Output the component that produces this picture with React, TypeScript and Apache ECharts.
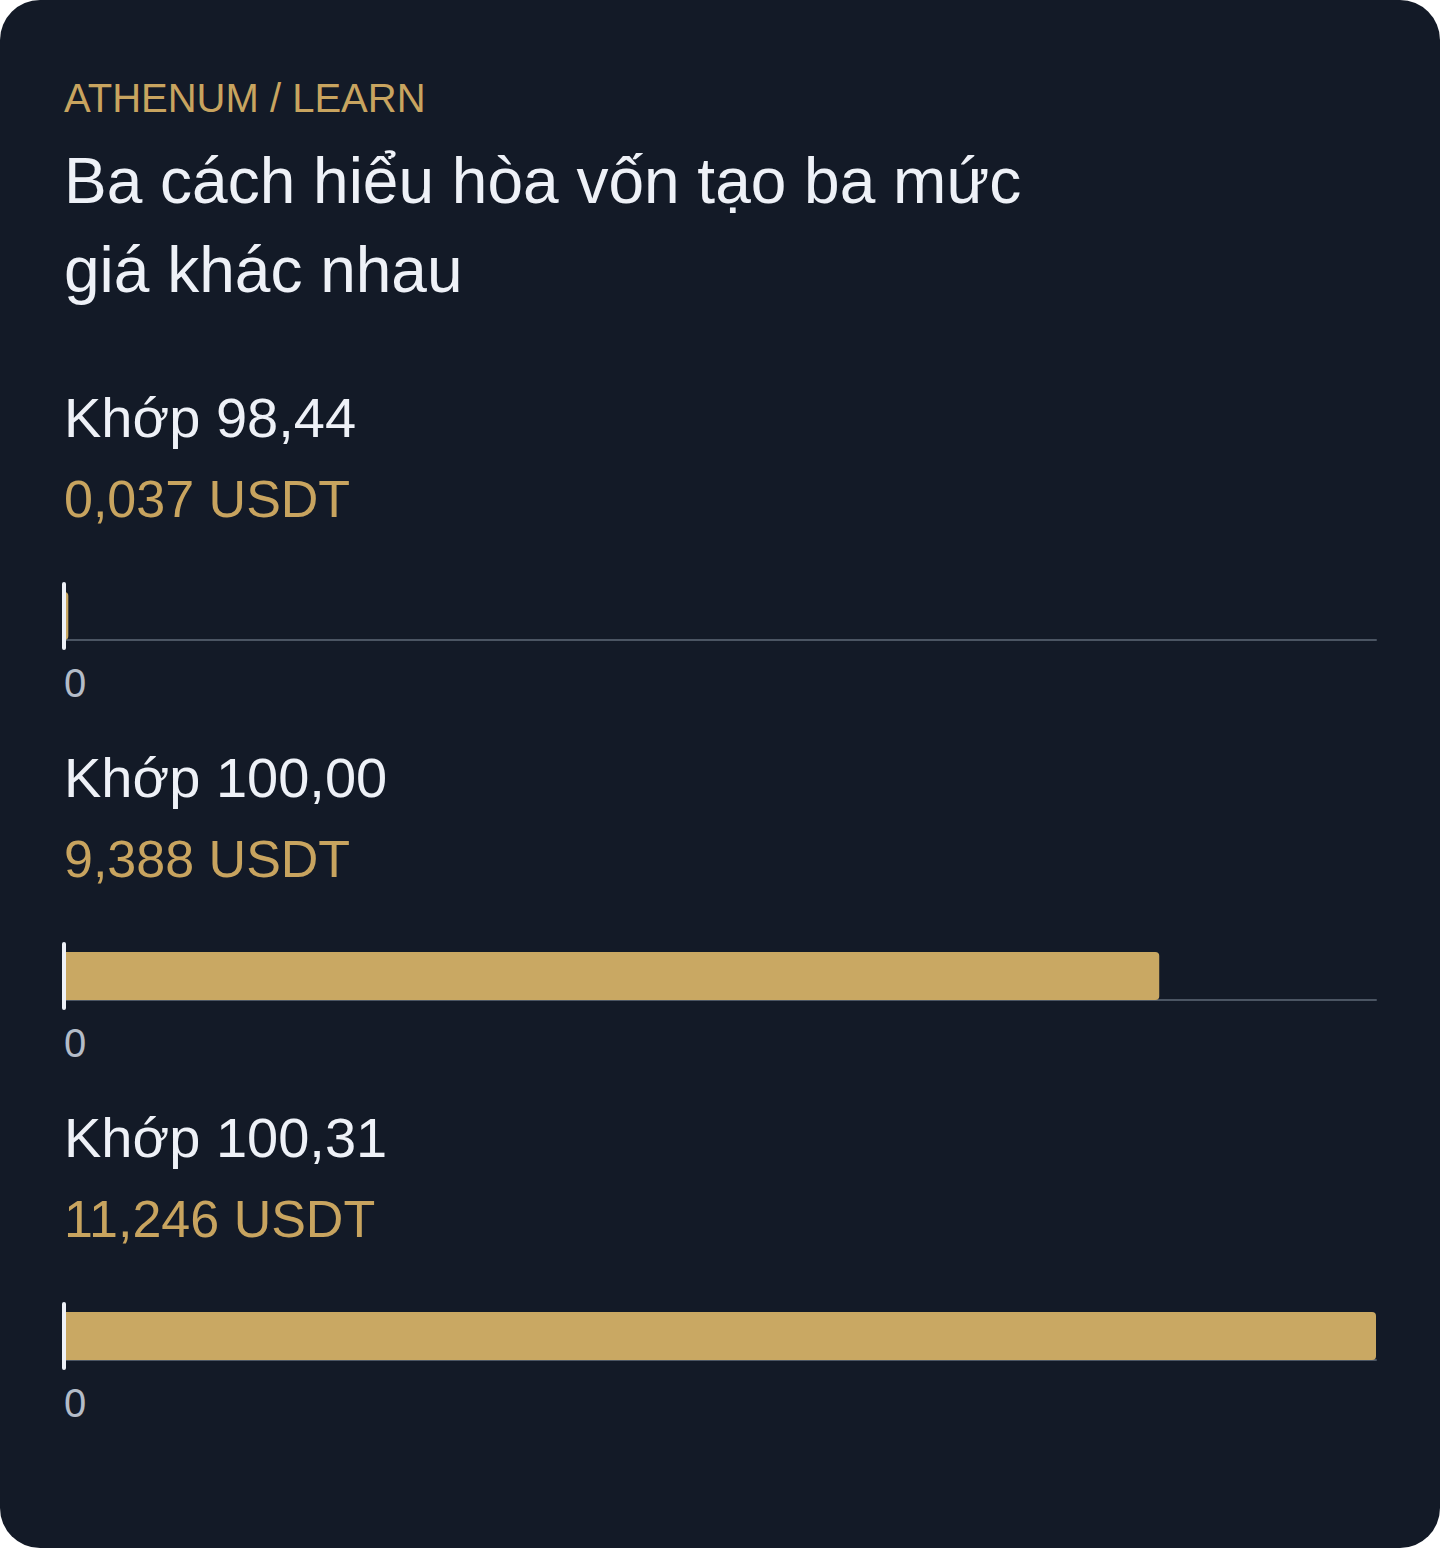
import React, { useEffect, useRef } from "react";
import * as echarts from "echarts";

const kicker = "ATHENUM / LEARN";
const titleLines = ["Ba cách hiểu hòa vốn tạo ba mức", "giá khác nhau"];
const matchLabels = ["Khớp 98,44", "Khớp 100,00", "Khớp 100,31"];
const pnlValues = [0.037, 9.388, 11.246];
const unit = "USDT";

const FONT = "'Liberation Sans', Arial, Helvetica, sans-serif";
const GOLD = "#c9a863";
const GOLD_TEXT = "#c8a45f";
const WHITE = "#eef1f7";
const BG = "#131a27";

export default function App() {
  const ref = useRef<HTMLDivElement>(null);

  useEffect(() => {
    document.body.style.margin = "0";
    const chart = echarts.init(ref.current!, null, { renderer: "svg" });
    const maxV = Math.max(...pnlValues);
    const panelStep = 360;
    const gridTop0 = 584;

    const grids: any[] = [];
    const xAxes: any[] = [];
    const yAxes: any[] = [];
    const series: any[] = [];
    const graphics: any[] = [
      {
        type: "text",
        left: 64,
        top: 98 - 20,
        style: { text: kicker, fill: GOLD_TEXT, font: `40px ${FONT}`, textVerticalAlign: "top" },
      },
      {
        type: "text",
        x: 64,
        y: 136,
        style: {
          text: titleLines.join("\n"),
          fill: WHITE,
          fontSize: 64,
          fontFamily: FONT,
          lineHeight: 89,
          verticalAlign: "top",
          align: "left",
        },
      },
    ];

    pnlValues.forEach((v, i) => {
      const off = i * panelStep;
      grids.push({ left: 64, right: 64, top: gridTop0 + off, height: 64, containLabel: false });
      xAxes.push({
        type: "value",
        gridIndex: i,
        min: 0,
        max: maxV,
        interval: maxV,
        offset: -8,
        axisLine: { show: true, lineStyle: { color: "#4b5563", width: 2 } },
        axisTick: { show: false },
        splitLine: { show: false },
        axisLabel: {
          showMaxLabel: false,
          color: "#b4bcc8",
          fontSize: 40,
          lineHeight: 40,
          fontFamily: FONT,
          margin: 23,
          align: "left",
        },
      });
      yAxes.push({
        type: "category",
        gridIndex: i,
        data: [matchLabels[i]],
        z: 10,
        axisLine: { show: true, lineStyle: { color: WHITE, width: 4 } },
        axisTick: { show: false },
        axisLabel: { show: false },
        splitLine: { show: false },
      });
      series.push({
        type: "bar",
        xAxisIndex: i,
        yAxisIndex: i,
        data: [v],
        barWidth: 48,
        itemStyle: { color: GOLD, borderRadius: [0, 4, 4, 0] },
        silent: true,
      });
      graphics.push(
        {
          type: "text",
          x: 64,
          y: 437 - 19.4 + off,
          style: {
            text: matchLabels[i],
            fill: WHITE,
            fontSize: 56,
            fontFamily: FONT,
            verticalAlign: "middle",
            align: "left",
          },
        },
        {
          type: "text",
          x: 64,
          y: 517 - 18 + off,
          style: {
            text: `${v.toFixed(3).replace(".", ",")} ${unit}`,
            fill: GOLD_TEXT,
            fontSize: 52,
            fontFamily: FONT,
            verticalAlign: "middle",
            align: "left",
          },
        }
      );
    });

    // fix kicker to use same convention
    graphics[0] = {
      type: "text",
      x: 64,
      y: 112 - 13.9,
      style: {
        text: kicker,
        fill: GOLD_TEXT,
        fontSize: 40,
        fontFamily: FONT,
        verticalAlign: "middle",
        align: "left",
      },
    };

    chart.setOption({
      animation: false,
      backgroundColor: "transparent",
      grid: grids,
      xAxis: xAxes,
      yAxis: yAxes,
      series,
      graphic: graphics,
    });

    return () => chart.dispose();
  }, []);

  return (
    <div
      style={{
        position: "absolute",
        left: 0,
        top: 0,
        width: 1440,
        height: 1548,
        background: BG,
        borderRadius: 40,
        overflow: "hidden",
      }}
    >
      <div ref={ref} style={{ width: 1440, height: 1548 }} />
    </div>
  );
}
